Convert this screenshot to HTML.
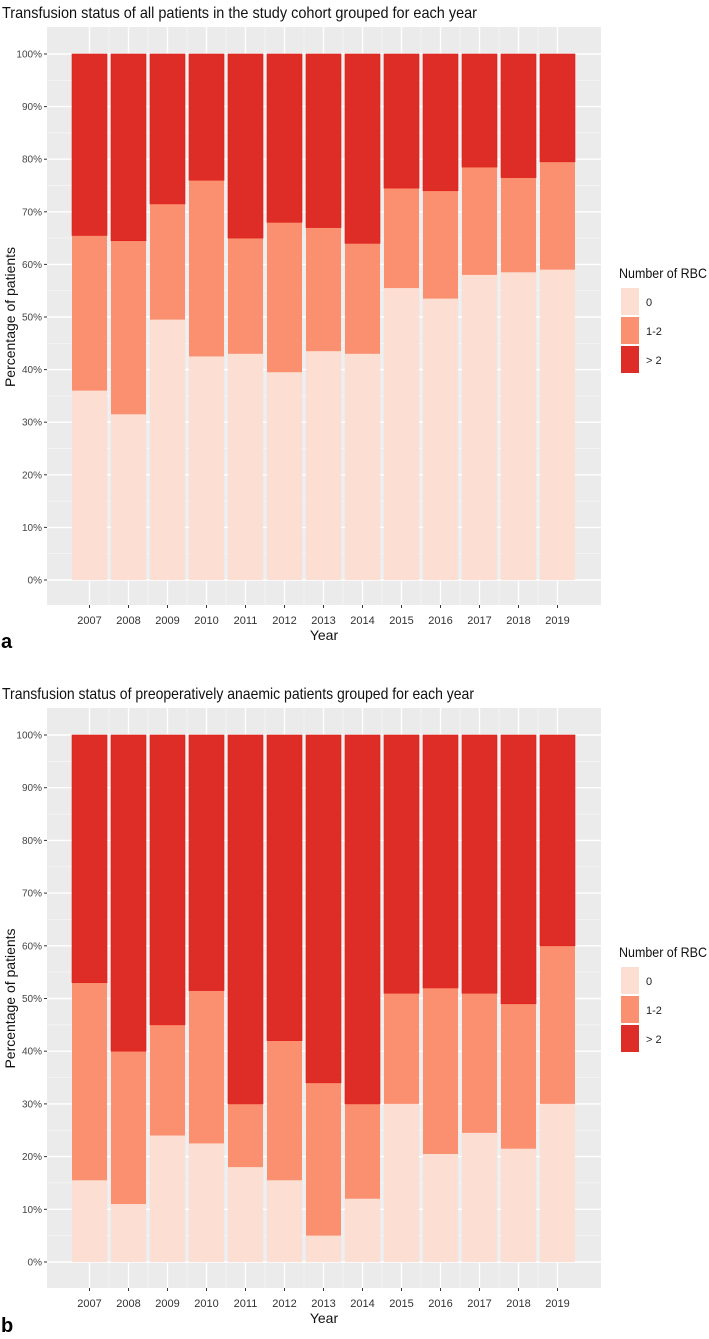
<!DOCTYPE html>
<html><head><meta charset="utf-8"><style>
html,body{margin:0;padding:0;background:#fff;}
svg{display:block;font-family:"Liberation Sans",sans-serif;}
</style></head><body>
<svg id="chart" width="709" height="1339" viewBox="0 0 709 1339" xmlns="http://www.w3.org/2000/svg"></svg>
<script>
const years = ["2007","2008","2009","2010","2011","2012","2013","2014","2015","2016","2017","2018","2019"];
const tickLabels = ["0%","10%","20%","30%","40%","50%","60%","70%","80%","90%","100%"];
const legendLabels = ["0","1-2","> 2"];
// panel a: share with 0 RBC, and cumulative share with 0 or 1-2 RBC
const aZero = [36,31.5,49.5,42.5,43,39.5,43.5,43,55.5,53.5,58,58.5,59];
const aUpTo2 = [65.5,64.5,71.5,76,65,68,67,64,74.5,74,78.5,76.5,79.5];
// panel b
const bZero = [15.5,11,24,22.5,18,15.5,5,12,30,20.5,24.5,21.5,30];
const bUpTo2 = [53,40,45,51.5,30,42,34,30,51,52,51,49,60];

const NS="http://www.w3.org/2000/svg";
const svg=document.getElementById('chart');
const COLORS=["#FCDFD2","#FB9070","#DE2D26"];
function mk(tag,attrs,parent,text){const e=document.createElementNS(NS,tag);for(const k in attrs)e.setAttribute(k,attrs[k]);if(text!==undefined)e.textContent=text;(parent||svg).appendChild(e);return e;}

function panel(cfg){
  const g=mk('g',{});
  
  
  const x0=47,x1=601,step=39,c0=89.5,bw=35;
  const xc=i=>c0+i*step;
  const y=v=>cfg.y0-(v/100)*(cfg.y0-cfg.y100);
  const t=mk('text',{x:2,y:cfg.top-9,'font-size':16,fill:'#111',textLength:cfg.titleLen,lengthAdjust:'spacingAndGlyphs'},g,cfg.title);
  
  
  const bg=mk('rect',{x:x0,y:cfg.top,width:x1-x0,height:cfg.bottom-cfg.top,fill:'#EBEBEB'},g);
  
  
  for(let v=5;v<=100;v+=10){mk('line',{x1:x0,x2:x1,y1:y(v),y2:y(v),stroke:'#F7F7F7','stroke-width':0.7},g);}
  for(let i=0;i<years.length-1;i++){mk('line',{x1:xc(i)+step/2,x2:xc(i)+step/2,y1:cfg.top,y2:cfg.bottom,stroke:'#F7F7F7','stroke-width':0.7},g);}
  tickLabels.forEach((lab,i)=>{const v=i*10;
    mk('line',{x1:x0,x2:x1,y1:y(v),y2:y(v),stroke:'#fff','stroke-width':1.4},g);
    mk('line',{x1:x0-3,x2:x0,y1:y(v),y2:y(v),stroke:'#333','stroke-width':1},g);
    const tl=mk('text',{x:x0-5,y:y(v)+3.5,'font-size':10,fill:'#444','text-anchor':'end'},g,lab);
    
    
  });
  years.forEach((yr,i)=>{
    mk('line',{x1:xc(i),x2:xc(i),y1:cfg.top,y2:cfg.bottom,stroke:'#fff','stroke-width':1.4},g);
  });
  years.forEach((yr,i)=>{
    const segs=[[0,cfg.zero[i]],[cfg.zero[i],cfg.upto2[i]],[cfg.upto2[i],100]];
    segs.forEach((s,k)=>{
      const r=mk('rect',{x:xc(i)-bw/2,y:y(s[1]),width:bw,height:y(s[0])-y(s[1]),fill:COLORS[k],stroke:k==2?'#E0201A':'none','stroke-width':0.6},g);
      
      
    });
    mk('line',{x1:xc(i),x2:xc(i),y1:cfg.bottom,y2:cfg.bottom+3,stroke:'#333','stroke-width':1},g);
    const xl=mk('text',{x:xc(i),y:cfg.bottom+19,'font-size':11,fill:'#333','text-anchor':'middle'},g,yr);
    
    
  });
  const xt=mk('text',{x:(x0+x1)/2,y:cfg.bottom+35,'font-size':14,fill:'#111','text-anchor':'middle'},g,'Year');
  
  
  const yc=(cfg.y0+cfg.y100)/2;
  const yt=mk('text',{x:0,y:0,'font-size':14,fill:'#111','text-anchor':'middle',transform:`translate(15,${yc}) rotate(-90)`},g,'Percentage of patients');
  
  
  const pl=mk('text',{x:1,y:cfg.letterY,'font-size':20,'font-weight':'bold',fill:'#000'},g,cfg.letter);
  
  
  const lg=mk('g',{},g);
  
  
  mk('text',{x:619,y:cfg.legY,'font-size':14,fill:'#111',textLength:88,lengthAdjust:'spacingAndGlyphs'},lg,'Number of RBC');
  legendLabels.forEach((lab,k)=>{
    const ky=cfg.legY+10+k*29;
    const sw=mk('rect',{x:621,y:ky,width:18,height:27,fill:COLORS[k]},lg);
    
    
    const lt=mk('text',{x:646,y:ky+18,'font-size':11,fill:'#222'},lg,lab);
    
    
  });
}
panel({name:'panel-a',title:'Transfusion status of all patients in the study cohort grouped for each year',titleLen:475,top:27,bottom:605,y100:54,y0:580,zero:aZero,upto2:aUpTo2,letter:'a',letterY:648,legY:278});
panel({name:'panel-b',title:'Transfusion status of preoperatively anaemic patients grouped for each year',titleLen:472,top:708,bottom:1288,y100:735,y0:1262,zero:bZero,upto2:bUpTo2,letter:'b',letterY:1332,legY:957});
</script>
</body></html>
